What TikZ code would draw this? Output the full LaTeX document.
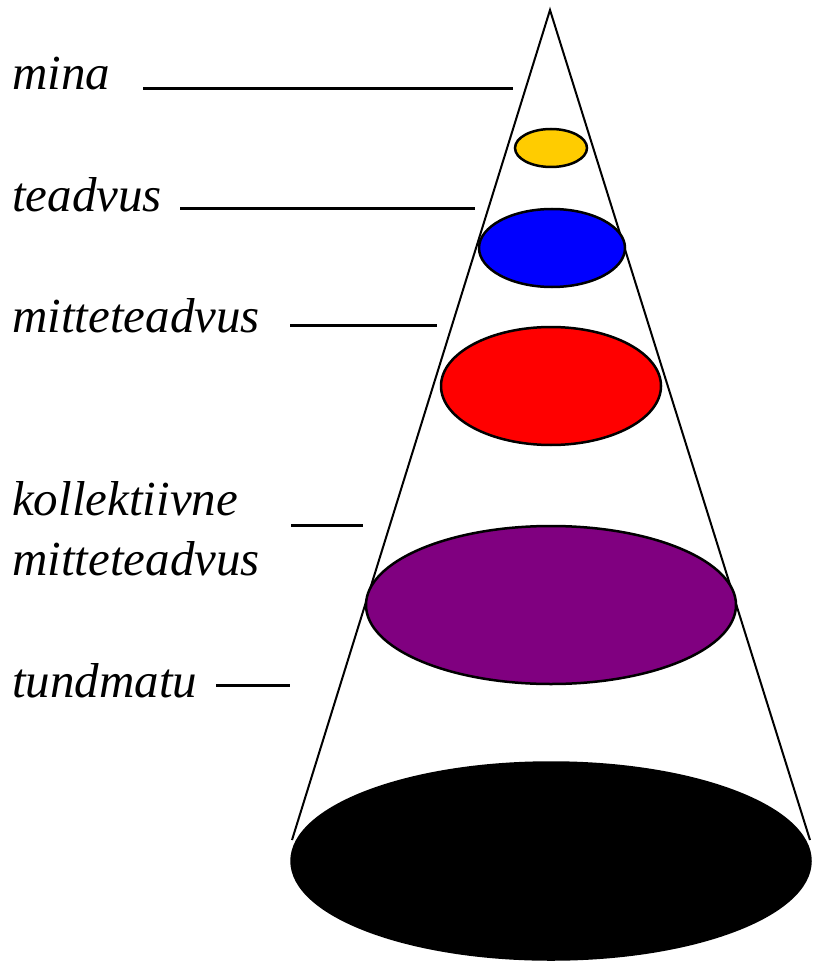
\documentclass[tikz,border=0pt]{standalone}
\usepackage{fontspec}
\setmainfont{Liberation Serif}
\usepackage{tikz}
\usetikzlibrary{shapes.geometric}
\definecolor{egoc}{RGB}{255,204,0}
\definecolor{consc}{RGB}{0,0,255}
\definecolor{uncons}{RGB}{255,0,0}
\definecolor{collc}{RGB}{128,0,128}
\tikzset{
  layer/.style ={ellipse, draw=black, line width=2.5pt, inner sep=0pt},
  coneline/.style={line width=2pt, color=black},
  lead/.style  ={line width=3pt, color=black},
  lbl/.style   ={font=\fontsize{49}{58}\selectfont\itshape, anchor=base west, inner sep=0pt},
}

\begin{document}
\begin{tikzpicture}[x=1pt, y=-1pt]
\useasboundingbox (0,0) rectangle (817,965);
% the cone
\coordinate (apex) at (550,10);
\coordinate (baseL) at (292,840);
\coordinate (baseR) at (810,840);
\draw[coneline] (baseL) -- (apex) -- (baseR);

% layers, top to bottom
\node[layer, fill=egoc, minimum width=72, minimum height=38] (ego) at (551,148) {};
\node[layer, fill=consc, minimum width=146, minimum height=78] (consc) at (552,248) {};
\node[layer, fill=uncons, minimum width=220, minimum height=118] (uncons) at (551,386) {};
\node[layer, fill=collc, minimum width=370, minimum height=158] (coll) at (551,605) {};
\node[layer, fill=black, minimum width=519, minimum height=197] (unknown) at (551,861) {};

% labels
\node[lbl] (tMina) at (12,90) {mina};
\node[lbl] (tTeadvus) at (12,212) {teadvus};
\node[lbl] (tMitte) at (12,332) {mitteteadvus};
\node[lbl] (tKoll) at (12,515) {kollektiivne};
\node[lbl] (tKoll2) at (12,575) {mitteteadvus};
\node[lbl] (tTund) at (12,697) {tundmatu};

% leader lines
\coordinate (minaA) at (143,89);  \coordinate (minaB) at (513,89);
\coordinate (teadA) at (180,209); \coordinate (teadB) at (475,209);
\coordinate (mittA) at (290,325); \coordinate (mittB) at (437,325);
\coordinate (kollA) at (291,525); \coordinate (kollB) at (363,525);
\coordinate (tundA) at (216,685); \coordinate (tundB) at (290,685);
\draw[lead] (minaA) -- (minaB);
\draw[lead] (teadA) -- (teadB);
\draw[lead] (mittA) -- (mittB);
\draw[lead] (kollA) -- (kollB);
\draw[lead] (tundA) -- (tundB);
\end{tikzpicture}
\end{document}
